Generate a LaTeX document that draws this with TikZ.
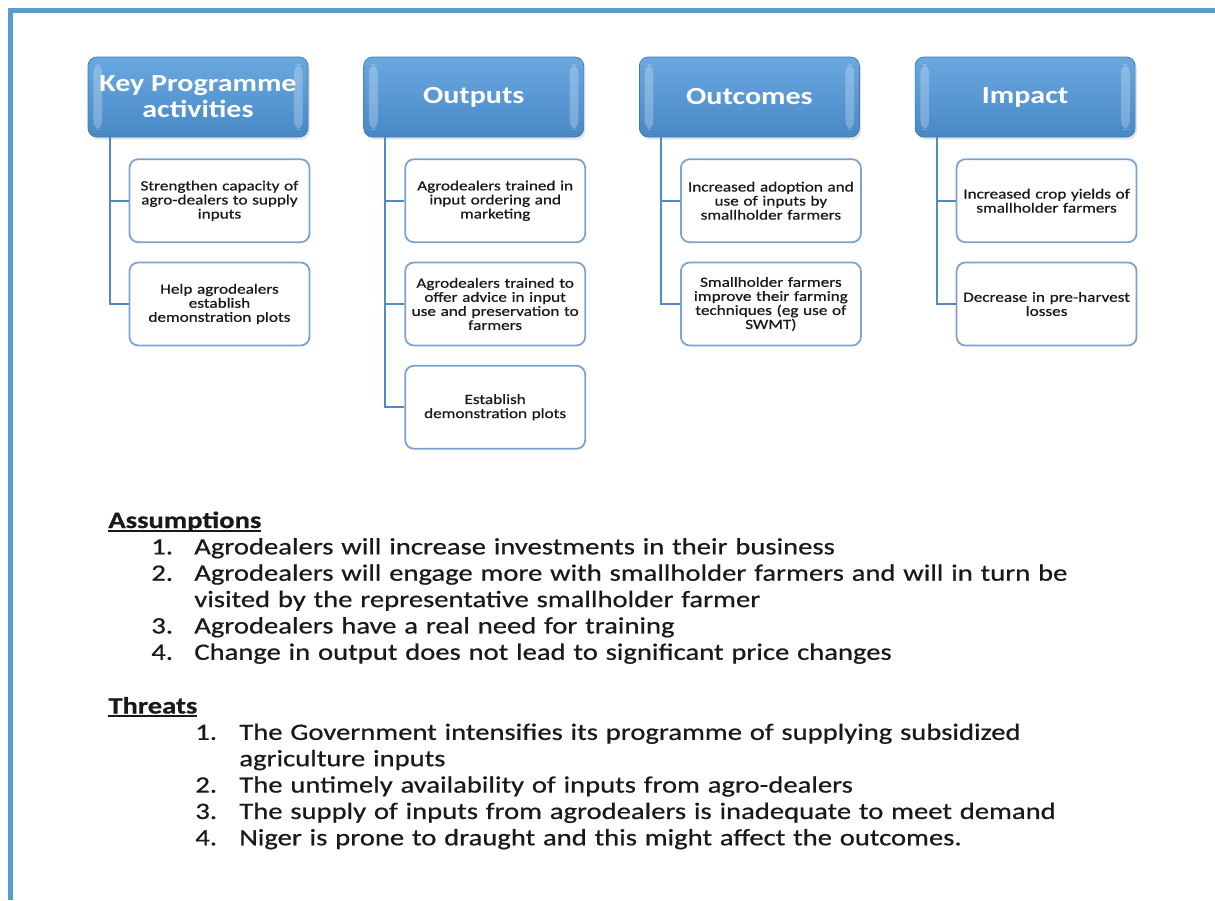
\documentclass[tikz,border=0pt]{standalone}
\usepackage{fontspec}
\setmainfont{Carlito}[FakeStretch=1.22]
\newfontfamily\bodyfont{Carlito}[FakeStretch=1.22, FakeBold=0.6]
\usetikzlibrary{positioning, shadows, calc}
\definecolor{cFrame}{RGB}{91, 155, 213}
\definecolor{cHeadTop}{RGB}{106, 168, 224}
\definecolor{cHeadBot}{RGB}{72, 136, 198}
\definecolor{cKidDraw}{RGB}{122, 162, 210}
\definecolor{cBranch}{RGB}{84, 138, 195}
\definecolor{cText}{RGB}{25, 25, 25}
\newlength{\headwd}
\newcommand{\ulhead}[1]{\settowidth{\headwd}{\textbf{#1}}\textbf{#1}\hspace{-\headwd}\rule[-2pt]{\headwd}{0.9pt}}
\newcommand{\listitem}[4]{\par\noindent\hspace*{#1}\makebox[\dimexpr#2-#1\relax][l]{#3}#4}
\newcommand{\listcont}[2]{\par\noindent\hspace*{#1}#2}
\tikzset{
    % --- 标题块 ---
    hdrbox/.style={
        rectangle, rounded corners=5pt,
        top color=cHeadTop, bottom color=cHeadBot, draw=cHeadBot!90!black,
        minimum width=4.4cm, minimum height=1.6cm,
        text=white, align=center,
        font=\fontsize{14}{14.7}\selectfont\bfseries,
        drop shadow={opacity=0.2, shadow xshift=1pt, shadow yshift=-1.5pt},
        path picture={
            \fill[white, opacity=0.25] ([xshift=3pt, yshift=-4pt]path picture bounding box.north west)
                rectangle ([xshift=8pt, yshift=4pt]path picture bounding box.south west);
            \fill[white, opacity=0.25] ([xshift=-8pt, yshift=-4pt]path picture bounding box.north east)
                rectangle ([xshift=-3pt, yshift=4pt]path picture bounding box.south east);
        }
    },
    % --- 子项 ---
    kidbox/.style={
        rectangle, rounded corners=5pt,
        draw=cKidDraw, line width=1pt, fill=white,
        minimum width=3.6cm, minimum height=1.66cm,
        text width=3.5cm, align=center, inner sep=0.5pt,
        text=cText, font=\bodyfont\fontsize{8}{8}\selectfont
    },
    % --- 连线 ---
    branch/.style={
        draw=cBranch, line width=1.2pt
    },
    % --- 文本 ---
    listtext/.style={
        text width=22cm, inner sep=0pt, align=left,
        text=cText, font=\bodyfont\fontsize{13.35}{15}\selectfont
    }
}
\begin{document}
\begin{tikzpicture}[node distance=0.37cm and 1.1cm]

	\useasboundingbox (0,0) rectangle (24.3,-18);

	% frame
	\draw[cFrame, line width=2.3pt] (24.3,-0.21) -- (0.21,-0.21) -- (0.21,-18);

	% =========================================
	% 1. headers
	% =========================================
	\node [hdrbox] (kpa) at (3.96,-1.94) {Key Programme\\activities};
	\node [hdrbox, right=of kpa] (outp) {Outputs};
	\node [hdrbox, right=of outp] (outc) {Outcomes};
	\node [hdrbox, right=of outc] (imp) {Impact};

	% =========================================
	% 2. items
	% =========================================

	% --- Key programme activities ---
	\node [kidbox, below left=0.42cm and -0.04cm of kpa.south east] (kpa1) {Strengthen capacity of\\agro-dealers to supply\\inputs};
	\node [kidbox, below=of kpa1] (kpa2) {Help agrodealers\\establish\\demonstration plots};

	% --- Outputs ---
	\node [kidbox, below left=0.42cm and -0.04cm of outp.south east] (outp1) {Agrodealers trained in\\input ordering and\\marketing};
	\node [kidbox, below=of outp1] (outp2) {Agrodealers trained to\\offer advice in input\\use and preservation to\\farmers};
	\node [kidbox, below=of outp2] (outp3) {Establish\\demonstration plots};

	% --- Outcomes ---
	\node [kidbox, below left=0.42cm and -0.04cm of outc.south east] (outc1) {Increased adoption and\\use of inputs by\\smallholder farmers};
	\node [kidbox, below=of outc1] (outc2) {Smallholder farmers\\improve their farming\\techniques (eg use of\\SWMT)};

	% --- Impact ---
	\node [kidbox, below left=0.42cm and -0.04cm of imp.south east] (imp1) {Increased crop yields of\\smallholder farmers};
	\node [kidbox, below=of imp1] (imp2) {Decrease in pre-harvest\\losses};

	% =========================================
	% 3. branches
	% =========================================
	\draw [branch] ($(kpa.south west)+(0.44,0)$) |- (kpa1.west);
	\draw [branch] ($(kpa.south west)+(0.44,0)$) |- (kpa2.west);

	\draw [branch] ($(outp.south west)+(0.44,0)$) |- (outp1.west);
	\draw [branch] ($(outp.south west)+(0.44,0)$) |- (outp2.west);
	\draw [branch] ($(outp.south west)+(0.44,0)$) |- (outp3.west);

	\draw [branch] ($(outc.south west)+(0.44,0)$) |- (outc1.west);
	\draw [branch] ($(outc.south west)+(0.44,0)$) |- (outc2.west);

	\draw [branch] ($(imp.south west)+(0.44,0)$) |- (imp1.west);
	\draw [branch] ($(imp.south west)+(0.44,0)$) |- (imp2.west);

	% =========================================
	% 4. assumptions / threats
	% =========================================
	\node [listtext, anchor=base west] (assume) at (2.16,-10.56) {\raggedright
		\ulhead{Assumptions}
		\listitem{0.86cm}{1.72cm}{1.}{Agrodealers will increase investments in their business}
		\listitem{0.86cm}{1.72cm}{2.}{Agrodealers will engage more with smallholder farmers and will in turn be}
		\listcont{1.72cm}{visited by the representative smallholder farmer}
		\listitem{0.86cm}{1.72cm}{3.}{Agrodealers have a real need for training}
		\listitem{0.86cm}{1.72cm}{4.}{Change in output does not lead to significant price changes}
	};

	\node [listtext, anchor=base west] (threat) at (2.16,-14.27) {\raggedright
		\ulhead{Threats}
		\listitem{1.74cm}{2.62cm}{1.}{The Government intensifies its programme of supplying subsidized}
		\listcont{2.62cm}{agriculture inputs}
		\listitem{1.74cm}{2.62cm}{2.}{The untimely availability of inputs from agro-dealers}
		\listitem{1.74cm}{2.62cm}{3.}{The supply of inputs from agrodealers is inadequate to meet demand}
		\listitem{1.74cm}{2.62cm}{4.}{Niger is prone to draught and this might affect the outcomes.}
	};

\end{tikzpicture}
\end{document}
